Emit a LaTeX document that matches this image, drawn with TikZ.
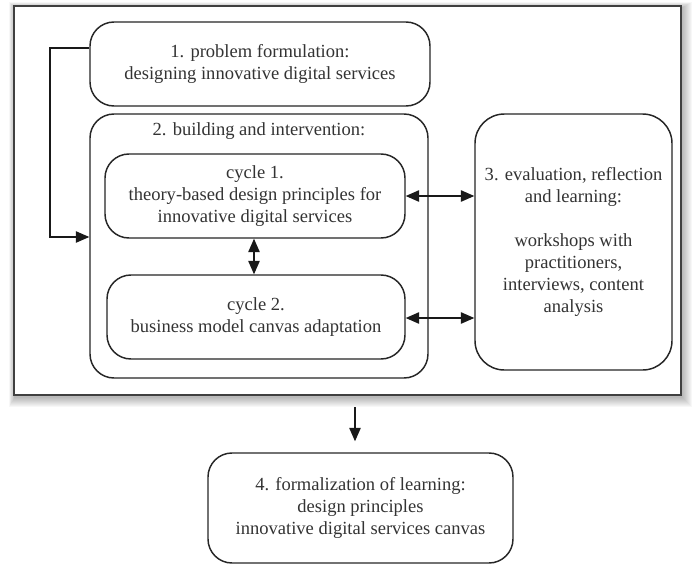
\documentclass[tikz,border=0pt]{standalone}
\usepackage{fontspec}
\setmainfont{Liberation Serif}
\usetikzlibrary{arrows.meta,calc}
\begin{document}
\begin{tikzpicture}[x=0.75pt,y=-0.75pt,
  box/.style={draw=black!85,line width=1.1pt,rounded corners=18pt,align=center,
    font=\fontsize{13.9}{16.6}\selectfont,text=black!80,inner sep=0pt},
  lbl/.style={align=center,font=\fontsize{13.9}{16.6}\selectfont,text=black!80,inner sep=0pt},
  conn/.style={draw=black!90,line width=1pt},
  tip/.style={-{Triangle[length=10pt,width=8.5pt]}},
  dtip/.style={{Triangle[length=10pt,width=8.5pt]}-{Triangle[length=10pt,width=8.5pt]}}]
\useasboundingbox (0,0) rectangle (693,565);
% shadow of the frame
\foreach \i in {1,...,10}{
  \fill[black,opacity=0.03] (14-\i*0.6+1,6-\i*0.6+2) rectangle (681+\i+1,395+\i+2);
}
\node[draw=black!75,fill=white,line width=0.8pt,minimum width=500.25pt,minimum height=291.75pt,inner sep=0pt] (frame) at (347.5,200.5) {};
% nodes
\node[box,minimum width=255pt,minimum height=63pt] (b1) at (260,64)
  {1. problem formulation:\\designing innovative digital services};
\node[box,minimum width=253.5pt,minimum height=198pt] (b2) at (259,246) {};
\node[lbl] (b2t) at (259,131) {2. building and intervention:};
\node[box,minimum width=225pt,minimum height=63pt] (c1) at (255,196)
  {\raisebox{-3pt}{\parbox{225pt}{\centering cycle 1.\\theory-based design principles for\\innovative digital services}}};
\node[box,minimum width=223.5pt,minimum height=63pt] (c2) at (256,317)
  {cycle 2.\\business model canvas adaptation};
\node[box,rounded corners=22pt,minimum width=147.75pt,minimum height=192pt] (b3) at (573.5,242)
  {3. evaluation, reflection\\and learning:\\~\\workshops with\\practitioners,\\interviews, content\\analysis};
\node[box,minimum width=228.75pt,minimum height=82.5pt] (b4) at (360.5,508)
  {4. formalization of learning:\\design principles\\innovative digital services canvas};
% connectors
\coordinate (fb1) at ($(b1.west)+(0,-16)$);
\coordinate (fb2) at (50,48);
\coordinate (fb3) at (50,237);
\coordinate (fb4) at (b2.west |- fb3);
\draw[conn,line width=0.8pt,tip] (fb1) -- (fb2) -- (fb3) -- (fb4);
\draw[conn,dtip] (c1.east) -- (c1.east -| b3.west);
\draw[conn,dtip] ($(c2.east)+(0,1)$) -- ($(c2.east -| b3.west)+(0,1)$);
\draw[conn,dtip] (c1.south -| 254,0) -- (c2.north -| 254,0);
\coordinate (dn) at (355,407);
\draw[conn,tip] (dn) -- ($(b4.north -| dn)+(0,-11)$);
\end{tikzpicture}
\end{document}
